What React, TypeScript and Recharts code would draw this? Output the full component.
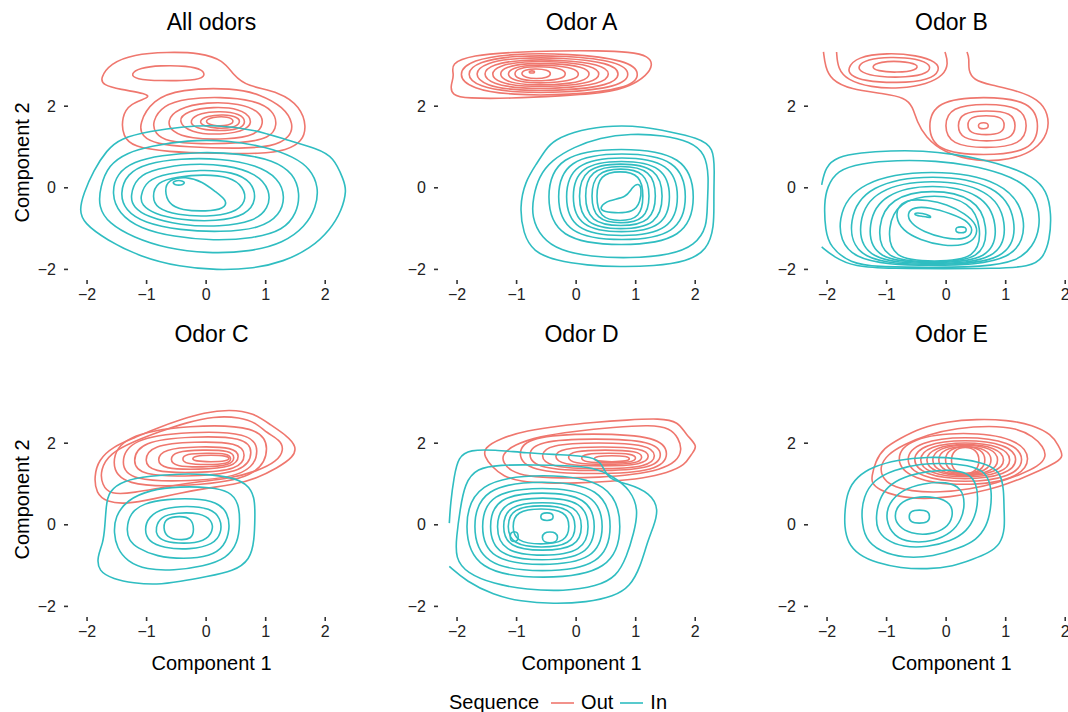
import { LineChart, Line, XAxis, YAxis } from 'recharts'

const OUT_COLOR = '#EF776E'
const IN_COLOR = '#2FBDC1'
const X_TICKS = [-2, -1, 0, 1, 2]
const Y_TICKS = [-2, 0, 2]
const X_DOMAIN: [number, number] = [-2.32, 2.5]
const Y_DOMAIN: [number, number] = [-2.26, 3.5]
const TITLES = ['All odors', 'Odor A', 'Odor B', 'Odor C', 'Odor D', 'Odor E']

// density contours, each one a flat list x0, y0, x1, y1, ...
const allOut = [
  [-1.78, 2.68, -1.61, 3.05, -1.22, 3.27, -0.66, 3.33, -0.1, 3.31, 0.29, 3.13, 0.46, 2.76, 0.68, 2.49, 1.24, 2.35, 1.58, 1.99, 1.69, 1.5, 1.61, 1.13, 1.36, 0.92, 0.91, 0.83, 0.18, 0.84, -0.66, 0.88, -1.22, 1.0, -1.4, 1.25, -1.42, 1.74, -1.28, 2.07, -0.94, 2.21, -1.0, 2.31, -1.45, 2.41, -1.73, 2.52],
  [-1.27, 2.79, -1.12, 2.94, -0.77, 3.0, -0.32, 2.99, -0.05, 2.9, -0.01, 2.72, -0.21, 2.63, -0.77, 2.62, -1.19, 2.66],
  [-1.13, 1.57, -0.9, 2.16, -0.44, 2.42, 0.46, 2.45, 0.91, 2.29, 1.3, 1.98, 1.47, 1.57, 1.41, 1.24, 1.13, 1.0, 0.46, 0.96, -0.33, 1.0, -0.83, 1.07, -1.08, 1.25],
  [-0.91, 1.62, -0.72, 2.03, -0.33, 2.19, 0.24, 2.23, 0.8, 2.15, 1.13, 1.9, 1.2, 1.54, 1.08, 1.21, 0.57, 1.09, -0.1, 1.07, -0.66, 1.13, -0.86, 1.33],
  [-0.66, 1.64, -0.49, 1.94, 0.01, 2.11, 0.57, 2.07, 0.91, 1.86, 0.97, 1.58, 0.85, 1.29, 0.35, 1.18, -0.27, 1.2, -0.58, 1.37],
  [-0.49, 1.64, -0.32, 1.89, 0.12, 1.99, 0.57, 1.94, 0.78, 1.7, 0.71, 1.41, 0.24, 1.29, -0.27, 1.35],
  [-0.3, 1.64, -0.1, 1.84, 0.24, 1.88, 0.57, 1.82, 0.68, 1.62, 0.57, 1.43, 0.18, 1.39, -0.18, 1.45],
  [-0.13, 1.63, 0.01, 1.76, 0.29, 1.8, 0.54, 1.74, 0.58, 1.59, 0.46, 1.47, 0.18, 1.45, -0.04, 1.51],
  [-0.04, 1.63, 0.1, 1.74, 0.38, 1.75, 0.48, 1.64, 0.4, 1.52, 0.1, 1.51],
]
const allIn = [
  [-1.67, 0.92, -1.45, 1.21, -0.94, 1.39, -0.38, 1.5, 0.18, 1.54, 0.8, 1.43, 1.36, 1.17, 1.86, 0.96, 2.14, 0.76, 2.31, 0.19, 2.36, -0.06, 2.28, -0.55, 2.08, -1.04, 1.75, -1.49, 1.3, -1.81, 0.8, -1.98, 0.18, -2.02, -0.44, -1.94, -1.11, -1.69, -1.67, -1.28, -2.06, -0.86, -2.13, -0.55, -2.06, -0.14, -1.89, 0.43],
  [-1.78, 0.02, -1.64, 0.56, -1.33, 0.86, -0.94, 1.02, -0.32, 1.17, 0.35, 1.17, 1.02, 1.0, 1.47, 0.76, 1.75, 0.47, 1.89, 0.02, 1.85, -0.47, 1.66, -0.96, 1.3, -1.35, 0.74, -1.57, 0.01, -1.61, -0.66, -1.49, -1.22, -1.22, -1.64, -0.87, -1.81, -0.47],
  [-1.59, -0.14, -1.5, 0.35, -1.22, 0.64, -0.77, 0.8, -0.1, 0.88, 0.57, 0.84, 1.13, 0.68, 1.47, 0.35, 1.58, -0.14, 1.52, -0.63, 1.3, -1.04, 0.8, -1.24, 0.12, -1.3, -0.55, -1.2, -1.11, -1.0, -1.47, -0.63],
  [-1.45, -0.14, -1.33, 0.35, -1.0, 0.6, -0.44, 0.72, 0.24, 0.72, 0.85, 0.56, 1.22, 0.23, 1.33, -0.22, 1.24, -0.67, 0.91, -1.0, 0.24, -1.09, -0.44, -1.04, -1.05, -0.86, -1.36, -0.55],
  [-1.28, -0.22, -1.17, 0.27, -0.83, 0.47, -0.27, 0.6, 0.35, 0.56, 0.85, 0.35, 1.08, -0.06, 1.05, -0.51, 0.8, -0.83, 0.24, -0.96, -0.44, -0.92, -1.0, -0.71, -1.22, -0.47],
  [-1.11, -0.22, -1.0, 0.19, -0.66, 0.35, -0.1, 0.45, 0.46, 0.39, 0.77, 0.15, 0.85, -0.3, 0.68, -0.67, 0.18, -0.83, -0.44, -0.79, -0.89, -0.63, -1.08, -0.42],
  [-0.91, -0.22, -0.83, 0.15, -0.49, 0.27, -0.04, 0.33, 0.4, 0.27, 0.63, 0.02, 0.68, -0.34, 0.46, -0.63, 0.01, -0.71, -0.49, -0.67, -0.83, -0.51],
  [-0.7, -0.06, -0.64, 0.2, -0.34, 0.28, -0.06, 0.15, 0.16, -0.1, 0.36, -0.32, 0.3, -0.52, 0.01, -0.58, -0.42, -0.55, -0.63, -0.4],
  [-0.6, 0.12, -0.46, 0.21, -0.32, 0.12, -0.46, 0.04],
]

const aOut = [
  [-2.12, 3.05, -1.73, 3.25, -1.11, 3.32, -0.27, 3.36, 0.35, 3.36, 0.91, 3.33, 1.22, 3.23, 1.29, 3.01, 1.19, 2.76, 0.91, 2.49, 0.52, 2.33, -0.27, 2.25, -1.11, 2.19, -1.84, 2.19, -2.09, 2.27, -2.11, 2.52, -2.04, 2.76],
  [-2.01, 2.78, -1.76, 3.14, -1.07, 3.29, -0.14, 3.29, 0.86, 3.14, 1.11, 2.78, 0.86, 2.42, -0.14, 2.27, -1.07, 2.27, -1.76, 2.42],
  [-1.87, 2.78, -1.65, 3.1, -1.03, 3.24, -0.18, 3.24, 0.72, 3.1, 0.94, 2.78, 0.72, 2.47, -0.18, 2.33, -1.03, 2.33, -1.65, 2.47],
  [-1.73, 2.79, -1.53, 3.07, -0.98, 3.19, -0.23, 3.19, 0.57, 3.07, 0.77, 2.79, 0.57, 2.5, -0.23, 2.38, -0.98, 2.38, -1.53, 2.5],
  [-1.59, 2.79, -1.41, 3.03, -0.93, 3.14, -0.28, 3.14, 0.42, 3.03, 0.6, 2.79, 0.42, 2.54, -0.28, 2.43, -0.93, 2.43, -1.41, 2.54],
  [-1.45, 2.79, -1.3, 3.0, -0.89, 3.1, -0.32, 3.1, 0.28, 3.0, 0.43, 2.79, 0.28, 2.57, -0.32, 2.48, -0.89, 2.48, -1.3, 2.57],
  [-1.31, 2.79, -1.18, 2.97, -0.84, 3.05, -0.37, 3.05, 0.13, 2.97, 0.26, 2.79, 0.13, 2.6, -0.37, 2.52, -0.84, 2.52, -1.18, 2.6],
  [-1.17, 2.79, -1.07, 2.94, -0.8, 3.01, -0.43, 3.01, -0.03, 2.94, 0.07, 2.79, -0.03, 2.64, -0.43, 2.57, -0.8, 2.57, -1.07, 2.64],
  [-1.05, 2.8, -0.98, 2.92, -0.78, 2.97, -0.52, 2.97, -0.23, 2.92, -0.16, 2.8, -0.23, 2.67, -0.52, 2.62, -0.78, 2.62, -0.98, 2.67],
  [-0.94, 2.8, -0.85, 2.9, -0.67, 2.92, -0.48, 2.89, -0.41, 2.8, -0.48, 2.7, -0.67, 2.67, -0.85, 2.7],
  [-0.81, 2.84, -0.74, 2.88, -0.68, 2.84, -0.74, 2.8],
]
const aIn = [
  [-0.52, 0.92, -0.38, 1.17, 0.07, 1.43, 0.63, 1.53, 1.13, 1.5, 1.58, 1.37, 2.03, 1.23, 2.32, 1.0, 2.32, 0.35, 2.31, -0.3, 2.32, -0.96, 2.2, -1.53, 1.86, -1.81, 1.3, -1.92, 0.74, -1.94, 0.18, -1.9, -0.33, -1.79, -0.72, -1.57, -0.89, -1.12, -0.95, -0.47, -0.86, 0.15, -0.66, 0.6],
  [-0.75, -0.71, -0.72, -0.22, -0.63, 0.27, -0.41, 0.68, -0.04, 1.0, 0.4, 1.23, 0.91, 1.33, 1.47, 1.29, 1.92, 1.13, 2.17, 0.84, 2.23, 0.27, 2.2, -0.38, 2.2, -0.96, 2.0, -1.41, 1.58, -1.65, 0.91, -1.73, 0.24, -1.69, -0.27, -1.54, -0.58, -1.24],
  [-0.52, -0.23, -0.33, 0.82, 0.76, 1.0, 1.84, 0.82, 2.03, -0.23, 1.84, -1.27, 0.76, -1.45, -0.33, -1.27],
  [-0.35, -0.22, -0.18, 0.72, 0.77, 0.88, 1.72, 0.72, 1.89, -0.22, 1.72, -1.16, 0.77, -1.32, -0.18, -1.16],
  [-0.21, -0.22, -0.06, 0.63, 0.77, 0.78, 1.6, 0.63, 1.75, -0.22, 1.6, -1.07, 0.77, -1.22, -0.06, -1.07],
  [-0.09, -0.22, 0.04, 0.55, 0.76, 0.69, 1.48, 0.55, 1.61, -0.22, 1.48, -0.98, 0.76, -1.12, 0.04, -0.98],
  [0.02, -0.21, 0.13, 0.5, 0.75, 0.62, 1.37, 0.5, 1.48, -0.21, 1.37, -0.92, 0.75, -1.04, 0.13, -0.92],
  [0.13, -0.2, 0.22, 0.45, 0.75, 0.56, 1.27, 0.45, 1.36, -0.2, 1.27, -0.85, 0.75, -0.96, 0.22, -0.85],
  [0.24, -0.2, 0.32, 0.39, 0.75, 0.49, 1.17, 0.39, 1.25, -0.2, 1.17, -0.79, 0.75, -0.89, 0.32, -0.79],
  [0.33, -0.21, 0.39, 0.33, 0.74, 0.42, 1.08, 0.33, 1.14, -0.21, 1.08, -0.74, 0.74, -0.83, 0.39, -0.74],
  [0.4, -0.47, 0.54, -0.3, 0.85, -0.24, 0.94, 0.02, 1.05, 0.12, 1.1, -0.02, 1.08, -0.34, 0.97, -0.6, 0.63, -0.62, 0.43, -0.57],
]

const bOut = [
  [-1.66, 2.92, -1.5, 3.21, -0.99, 3.31, -0.49, 3.25, -0.16, 3.09, -0.1, 2.88, -0.27, 2.64, -0.83, 2.56, -1.39, 2.62, -1.61, 2.76],
  [-1.5, 2.97, -1.33, 3.15, -0.94, 3.21, -0.49, 3.17, -0.24, 3.01, -0.3, 2.8, -0.66, 2.7, -1.16, 2.72, -1.42, 2.82],
  [-1.27, 2.97, -1.11, 3.09, -0.77, 3.11, -0.46, 3.03, -0.49, 2.88, -0.83, 2.82, -1.16, 2.86],
  [-0.32, 1.51, -0.18, 2.13, 0.63, 2.25, 1.44, 2.13, 1.58, 1.51, 1.44, 0.89, 0.63, 0.78, -0.18, 0.89],
  [-0.04, 1.52, 0.07, 1.99, 0.67, 2.07, 1.27, 1.99, 1.38, 1.52, 1.27, 1.05, 0.67, 0.96, 0.07, 1.05],
  [0.18, 1.52, 0.26, 1.85, 0.68, 1.9, 1.11, 1.85, 1.18, 1.52, 1.11, 1.19, 0.68, 1.13, 0.26, 1.19],
  [0.35, 1.54, 0.4, 1.74, 0.67, 1.78, 0.94, 1.74, 0.99, 1.54, 0.94, 1.33, 0.67, 1.29, 0.4, 1.33],
  [0.54, 1.52, 0.55, 1.58, 0.63, 1.6, 0.7, 1.58, 0.71, 1.52, 0.7, 1.46, 0.63, 1.44, 0.55, 1.46],
]
const bOutOpen = [
  [-2.06, 3.33, -2.03, 2.97, -1.93, 2.64, -1.61, 2.41, -1.05, 2.31, -0.69, 2.21, -0.56, 1.99, -0.49, 1.62, -0.35, 1.25, -0.04, 0.86, 0.51, 0.64, 1.07, 0.68, 1.49, 0.91, 1.72, 1.33, 1.72, 1.82, 1.55, 2.17, 1.18, 2.39, 0.74, 2.52, 0.46, 2.64, 0.37, 2.88, 0.39, 3.17, 0.35, 3.33],
  [-1.84, 3.33, -1.82, 2.92, -1.66, 2.64, -1.27, 2.46, -0.77, 2.43, -0.32, 2.54, -0.04, 2.76, 0.04, 3.05, -0.02, 3.33],
]
const bIn = [
  [-2.05, -0.38, -2.0, 0.02, -1.83, 0.43, -1.44, 0.6, -0.83, 0.68, -0.16, 0.66, 0.4, 0.56, 0.96, 0.35, 1.35, 0.07, 1.55, -0.38, 1.58, -0.96, 1.46, -1.45, 1.18, -1.81, 0.63, -1.94, -0.32, -1.95, -1.16, -1.94, -1.61, -1.85, -1.95, -1.45, -2.03, -1.04],
  [-1.86, -0.72, -1.47, 0.18, -0.24, 0.47, 0.99, 0.18, 1.38, -0.72, 1.22, -1.85, -0.24, -1.92, -1.7, -1.85],
  [-1.66, -0.78, -1.32, 0.08, -0.23, 0.35, 0.87, 0.08, 1.21, -0.78, 1.07, -1.83, -0.23, -1.9, -1.52, -1.83],
  [-1.5, -0.82, -1.2, -0.02, -0.23, 0.23, 0.74, -0.02, 1.04, -0.82, 0.91, -1.81, -0.23, -1.87, -1.37, -1.81],
  [-1.33, -0.87, -1.06, -0.13, -0.23, 0.11, 0.61, -0.13, 0.88, -0.87, 0.77, -1.79, -0.23, -1.85, -1.22, -1.79],
  [-1.16, -0.92, -0.94, -0.24, -0.23, -0.02, 0.49, -0.24, 0.71, -0.92, 0.62, -1.78, -0.23, -1.83, -1.07, -1.78],
  [-0.99, -0.97, -0.8, -0.34, -0.2, -0.14, 0.41, -0.34, 0.6, -0.97, 0.52, -1.76, -0.2, -1.81, -0.91, -1.76],
  [-0.85, -0.71, -0.8, -0.42, -0.6, -0.28, -0.32, -0.3, 0.01, -0.4, 0.32, -0.63, 0.53, -0.92, 0.51, -1.22, 0.32, -1.41, -0.04, -1.43, -0.44, -1.28, -0.74, -1.04],
  [-0.66, -0.63, -0.55, -0.47, -0.27, -0.48, 0.07, -0.63, 0.4, -0.83, 0.46, -1.12, 0.29, -1.28, -0.04, -1.24, -0.38, -1.08, -0.6, -0.87],
  [-0.53, -0.61, -0.4, -0.62, -0.26, -0.69, -0.25, -0.74, -0.4, -0.7, -0.53, -0.67],
  [0.16, -1.03, 0.17, -0.97, 0.25, -0.95, 0.33, -0.97, 0.34, -1.03, 0.33, -1.09, 0.25, -1.11, 0.17, -1.09],
]
const bInOpen = [
  [-2.09, 0.07, -2.03, 0.51, -1.83, 0.76, -1.44, 0.86, -0.94, 0.91, -0.38, 0.91, 0.12, 0.83, 0.63, 0.69, 1.07, 0.51, 1.46, 0.27, 1.69, -0.06, 1.77, -0.63, 1.74, -1.28, 1.63, -1.73, 1.41, -1.94, 0.79, -1.98, -0.04, -1.98, -0.88, -1.98, -1.55, -1.94, -1.89, -1.69, -2.09, -1.45],
]

const cOut = [
  [-1.88, 1.18, -1.81, 1.59, -1.56, 1.92, -1.22, 2.12, -0.83, 2.37, -0.44, 2.57, -0.04, 2.75, 0.4, 2.83, 0.8, 2.74, 1.08, 2.45, 1.36, 2.18, 1.52, 1.92, 1.47, 1.66, 1.19, 1.39, 0.85, 1.14, 0.46, 0.98, 0.01, 0.9, -0.44, 0.78, -0.89, 0.63, -1.33, 0.51, -1.67, 0.55, -1.85, 0.78],
  [-1.78, 1.35, -1.61, 1.76, -1.22, 2.04, -0.77, 2.29, -0.32, 2.51, 0.12, 2.66, 0.57, 2.64, 0.85, 2.49, 1.02, 2.25, 1.24, 2.08, 1.31, 1.84, 1.19, 1.55, 0.85, 1.31, 0.4, 1.14, -0.1, 1.06, -0.66, 0.94, -1.22, 0.78, -1.61, 0.74, -1.75, 0.98],
  [-1.61, 1.5, -1.41, 2.2, -0.27, 2.45, 0.88, 2.42, 1.08, 1.9, 0.88, 1.15, -0.27, 0.94, -1.41, 0.95],
  [-1.45, 1.5, -1.27, 2.12, -0.27, 2.29, 0.73, 2.26, 0.91, 1.85, 0.73, 1.2, -0.27, 1.06, -1.27, 1.08],
  [-1.25, 1.55, -1.1, 2.05, -0.23, 2.17, 0.65, 2.15, 0.8, 1.8, 0.65, 1.29, -0.23, 1.18, -1.1, 1.2],
  [-1.05, 1.57, -0.92, 1.96, -0.19, 2.04, 0.55, 2.02, 0.68, 1.72, 0.55, 1.34, -0.19, 1.27, -0.92, 1.29],
  [-0.83, 1.58, -0.73, 1.86, -0.13, 1.92, 0.47, 1.9, 0.57, 1.68, 0.47, 1.41, -0.13, 1.35, -0.73, 1.37],
  [-0.61, 1.6, -0.53, 1.8, -0.06, 1.84, 0.41, 1.82, 0.49, 1.65, 0.41, 1.45, -0.06, 1.41, -0.53, 1.43],
  [-0.41, 1.61, -0.35, 1.74, 0.01, 1.76, 0.37, 1.75, 0.43, 1.62, 0.37, 1.49, 0.01, 1.47, -0.35, 1.49],
  [-0.24, 1.62, -0.19, 1.69, 0.08, 1.71, 0.35, 1.69, 0.4, 1.63, 0.35, 1.56, 0.08, 1.54, -0.19, 1.56],
]
const cIn = [
  [-1.64, 0.82, -1.39, 1.09, -0.94, 1.2, -0.44, 1.25, 0.01, 1.24, 0.4, 1.17, 0.68, 1.02, 0.82, 0.69, 0.82, 0.2, 0.81, -0.37, 0.74, -0.86, 0.46, -1.14, 0.01, -1.27, -0.44, -1.39, -0.83, -1.47, -1.22, -1.43, -1.56, -1.33, -1.81, -1.14, -1.83, -0.78, -1.73, -0.45, -1.7, -0.04, -1.68, 0.45],
  [-1.55, -0.2, -1.53, 0.2, -1.33, 0.61, -0.94, 0.86, -0.44, 0.94, 0.07, 0.92, 0.4, 0.82, 0.55, 0.53, 0.57, 0.04, 0.53, -0.45, 0.35, -0.82, -0.04, -1.02, -0.55, -1.12, -1.0, -1.1, -1.33, -0.9, -1.5, -0.56],
  [-1.34, -0.12, -1.28, 0.29, -1.05, 0.53, -0.66, 0.63, -0.21, 0.65, 0.18, 0.57, 0.37, 0.29, 0.4, -0.12, 0.31, -0.53, 0.07, -0.78, -0.38, -0.84, -0.83, -0.78, -1.16, -0.57, -1.3, -0.37],
  [-1.04, -0.12, -0.97, 0.2, -0.72, 0.41, -0.32, 0.47, 0.07, 0.41, 0.25, 0.16, 0.26, -0.2, 0.12, -0.49, -0.27, -0.61, -0.72, -0.57, -0.97, -0.41],
  [-0.85, -0.08, -0.77, 0.2, -0.49, 0.3, -0.1, 0.29, 0.1, 0.12, 0.12, -0.16, -0.02, -0.41, -0.38, -0.47, -0.72, -0.41, -0.83, -0.27],
  [-0.72, -0.08, -0.69, 0.16, -0.44, 0.22, -0.24, 0.16, -0.2, -0.12, -0.24, -0.35, -0.46, -0.38, -0.67, -0.3],
]

const dOut = [
  [-1.55, 1.88, -1.28, 2.12, -0.83, 2.31, -0.27, 2.43, 0.29, 2.51, 0.85, 2.57, 1.41, 2.61, 1.72, 2.53, 1.84, 2.21, 2.06, 1.92, 1.92, 1.72, 1.84, 1.47, 1.53, 1.27, 1.13, 1.14, 0.57, 1.06, 0.01, 1.02, -0.49, 1.02, -0.94, 1.06, -1.22, 1.18, -1.42, 1.43, -1.54, 1.67],
  [-1.25, 1.72, -1.05, 1.96, -0.61, 2.17, -0.04, 2.29, 0.63, 2.39, 1.25, 2.45, 1.58, 2.37, 1.72, 2.12, 1.78, 1.84, 1.69, 1.55, 1.41, 1.35, 0.97, 1.23, 0.4, 1.16, -0.27, 1.14, -0.83, 1.18, -1.11, 1.33, -1.22, 1.51],
  [-1.0, 1.74, -0.81, 2.17, 0.29, 2.25, 1.39, 2.17, 1.58, 1.74, 1.39, 1.31, 0.29, 1.23, -0.81, 1.31],
  [-0.83, 1.72, -0.66, 2.06, 0.32, 2.12, 1.3, 2.06, 1.47, 1.72, 1.3, 1.37, 0.32, 1.31, -0.66, 1.37],
  [-0.61, 1.69, -0.47, 1.97, 0.38, 2.02, 1.22, 1.97, 1.36, 1.69, 1.22, 1.41, 0.38, 1.36, -0.47, 1.41],
  [-0.38, 1.68, -0.26, 1.88, 0.44, 1.92, 1.13, 1.88, 1.25, 1.68, 1.13, 1.47, 0.44, 1.43, -0.26, 1.47],
  [-0.16, 1.66, -0.06, 1.81, 0.49, 1.84, 1.04, 1.81, 1.13, 1.66, 1.04, 1.5, 0.49, 1.47, -0.06, 1.5],
  [0.07, 1.64, 0.14, 1.74, 0.55, 1.76, 0.95, 1.74, 1.02, 1.64, 0.95, 1.53, 0.55, 1.51, 0.14, 1.53],
  [0.29, 1.62, 0.34, 1.68, 0.6, 1.7, 0.86, 1.68, 0.91, 1.62, 0.86, 1.56, 0.6, 1.54, 0.34, 1.56],
]
const dIn = [
  [-1.95, 0.37, -1.87, 1.02, -1.67, 1.39, -1.28, 1.47, -0.72, 1.47, -0.16, 1.45, 0.29, 1.41, 0.63, 1.18, 0.91, 0.86, 1.05, 0.37, 0.97, -0.2, 0.85, -0.78, 0.68, -1.27, 0.35, -1.51, -0.21, -1.63, -0.83, -1.59, -1.39, -1.45, -1.84, -1.18, -2.03, -0.82, -2.01, -0.29],
  [-1.9, -0.04, -1.7, 1.07, -0.55, 1.27, 0.6, 1.07, 0.8, -0.04, 0.6, -1.15, -0.55, -1.35, -1.7, -1.15],
  [-1.76, -0.04, -1.58, 0.93, -0.57, 1.1, 0.45, 0.93, 0.63, -0.04, 0.45, -1.01, -0.57, -1.18, -1.58, -1.01],
  [-1.62, -0.04, -1.47, 0.79, -0.57, 0.94, 0.33, 0.79, 0.49, -0.04, 0.33, -0.87, -0.57, -1.02, -1.47, -0.87],
  [-1.48, -0.04, -1.35, 0.69, -0.57, 0.82, 0.21, 0.69, 0.35, -0.04, 0.21, -0.77, -0.57, -0.9, -1.35, -0.77],
  [-1.36, -0.05, -1.24, 0.58, -0.56, 0.69, 0.12, 0.58, 0.24, -0.05, 0.12, -0.67, -0.56, -0.78, -1.24, -0.67],
  [-1.25, -0.04, -1.15, 0.48, -0.57, 0.57, 0.02, 0.48, 0.12, -0.04, 0.02, -0.56, -0.57, -0.65, -1.15, -0.56],
  [-1.17, -0.04, -1.08, 0.41, -0.58, 0.49, -0.08, 0.41, 0.01, -0.04, -0.08, -0.49, -0.58, -0.57, -1.08, -0.49],
  [-1.08, -0.04, -1.01, 0.34, -0.59, 0.41, -0.17, 0.34, -0.1, -0.04, -0.17, -0.42, -0.59, -0.49, -1.01, -0.42],
  [-0.6, 0.2, -0.58, 0.28, -0.49, 0.3, -0.4, 0.28, -0.38, 0.2, -0.4, 0.12, -0.49, 0.1, -0.58, 0.12],
  [-1.11, -0.29, -1.1, -0.19, -1.04, -0.16, -0.98, -0.19, -0.97, -0.29, -0.98, -0.39, -1.04, -0.42, -1.1, -0.39],
  [-0.58, -0.31, -0.54, -0.19, -0.44, -0.17, -0.34, -0.19, -0.3, -0.31, -0.34, -0.43, -0.44, -0.45, -0.54, -0.43],
]
const dInOpen = [
  [-2.13, 0.04, -2.11, 0.53, -2.05, 1.18, -1.98, 1.67, -1.78, 1.84, -1.39, 1.84, -0.83, 1.76, -0.27, 1.72, 0.29, 1.67, 0.43, 1.51, 0.54, 1.1, 0.85, 1.02, 1.25, 0.78, 1.39, 0.37, 1.3, -0.04, 1.19, -0.45, 1.08, -1.02, 0.91, -1.51, 0.63, -1.76, 0.18, -1.9, -0.38, -1.94, -0.94, -1.88, -1.39, -1.72, -1.84, -1.39, -2.13, -1.02],
]

const eOut = [
  [-1.25, 1.18, -1.19, 1.55, -1.05, 1.88, -0.77, 2.12, -0.44, 2.37, 0.01, 2.53, 0.51, 2.59, 1.02, 2.57, 1.46, 2.45, 1.77, 2.21, 1.88, 1.96, 1.98, 1.67, 1.85, 1.53, 1.58, 1.33, 1.24, 1.12, 0.91, 0.94, 0.51, 0.79, 0.07, 0.68, -0.38, 0.63, -0.83, 0.69, -1.13, 0.86, -1.25, 1.02],
  [-1.11, 1.43, -0.99, 1.72, -0.72, 1.96, -0.32, 2.21, 0.18, 2.37, 0.74, 2.43, 1.18, 2.37, 1.46, 2.17, 1.63, 1.92, 1.69, 1.67, 1.55, 1.43, 1.24, 1.23, 0.85, 1.02, 0.4, 0.87, -0.1, 0.79, -0.6, 0.82, -0.94, 0.96, -1.08, 1.18],
  [-0.88, 1.62, -0.6, 2.13, 0.29, 2.29, 1.18, 2.13, 1.46, 1.62, 1.18, 1.1, 0.29, 0.94, -0.6, 1.1],
  [-0.72, 1.6, -0.47, 2.04, 0.32, 2.18, 1.1, 2.04, 1.35, 1.6, 1.1, 1.16, 0.32, 1.02, -0.47, 1.16],
  [-0.6, 1.6, -0.38, 1.98, 0.32, 2.1, 1.02, 1.98, 1.24, 1.6, 1.02, 1.21, 0.32, 1.09, -0.38, 1.21],
  [-0.49, 1.59, -0.3, 1.93, 0.32, 2.04, 0.94, 1.93, 1.13, 1.59, 0.94, 1.25, 0.32, 1.14, -0.3, 1.25],
  [-0.38, 1.59, -0.21, 1.9, 0.32, 2.0, 0.85, 1.9, 1.02, 1.59, 0.85, 1.28, 0.32, 1.18, -0.21, 1.28],
  [-0.27, 1.59, -0.13, 1.89, 0.32, 1.98, 0.77, 1.89, 0.91, 1.59, 0.77, 1.29, 0.32, 1.2, -0.13, 1.29],
  [-0.16, 1.59, -0.05, 1.86, 0.32, 1.95, 0.68, 1.86, 0.79, 1.59, 0.68, 1.31, 0.32, 1.22, -0.05, 1.31],
  [-0.04, 1.59, 0.05, 1.86, 0.32, 1.94, 0.59, 1.86, 0.68, 1.59, 0.59, 1.31, 0.32, 1.23, 0.05, 1.31],
  [0.07, 1.58, 0.13, 1.84, 0.32, 1.92, 0.51, 1.84, 0.57, 1.58, 0.51, 1.31, 0.32, 1.23, 0.13, 1.31],
]
const eIn = [
  [-1.7, 0.37, -1.66, 0.82, -1.5, 1.18, -1.22, 1.43, -0.83, 1.59, -0.32, 1.67, 0.23, 1.63, 0.65, 1.51, 0.91, 1.31, 0.97, 0.86, 0.97, 0.37, 0.99, -0.08, 0.91, -0.49, 0.71, -0.69, 0.46, -0.84, 0.12, -1.02, -0.32, -1.09, -0.77, -1.06, -1.16, -0.94, -1.47, -0.74, -1.65, -0.45, -1.71, -0.04],
  [-1.43, 0.2, -1.39, 0.69, -1.22, 1.1, -0.88, 1.35, -0.44, 1.5, 0.07, 1.51, 0.46, 1.43, 0.68, 1.27, 0.77, 0.86, 0.75, 0.37, 0.68, -0.04, 0.51, -0.37, 0.23, -0.57, -0.21, -0.78, -0.72, -0.82, -1.11, -0.65, -1.36, -0.37],
  [-1.18, 0.2, -1.13, 0.61, -0.99, 0.94, -0.72, 1.18, -0.32, 1.31, 0.07, 1.36, 0.37, 1.27, 0.51, 1.02, 0.54, 0.61, 0.49, 0.2, 0.35, -0.16, 0.07, -0.41, -0.32, -0.55, -0.72, -0.55, -1.02, -0.37, -1.16, -0.12],
  [-1.02, 0.12, -0.97, 0.53, -0.74, 0.86, -0.38, 1.02, 0.01, 1.06, 0.26, 0.9, 0.32, 0.53, 0.26, 0.12, 0.09, -0.2, -0.21, -0.41, -0.6, -0.44, -0.88, -0.29],
  [-0.88, 0.2, -0.8, 0.53, -0.55, 0.69, -0.16, 0.69, 0.09, 0.53, 0.12, 0.2, 0.01, -0.08, -0.27, -0.25, -0.6, -0.22, -0.8, -0.04],
  [-0.63, 0.2, -0.6, 0.34, -0.45, 0.37, -0.3, 0.34, -0.27, 0.2, -0.3, 0.06, -0.45, 0.03, -0.6, 0.06],
]

type Panel = { title: string; out: number[][]; outOpen: number[][]; inn: number[][]; inOpen: number[][] }

const PANELS: Panel[] = [
  { title: TITLES[0], out: allOut, outOpen: [], inn: allIn, inOpen: [] },
  { title: TITLES[1], out: aOut, outOpen: [], inn: aIn, inOpen: [] },
  { title: TITLES[2], out: bOut, outOpen: bOutOpen, inn: bIn, inOpen: bInOpen },
  { title: TITLES[3], out: cOut, outOpen: [], inn: cIn, inOpen: [] },
  { title: TITLES[4], out: dOut, outOpen: [], inn: dIn, inOpen: dInOpen },
  { title: TITLES[5], out: eOut, outOpen: [], inn: eIn, inOpen: [] },
]

function toPoints(flat: number[]) {
  const rows: { x: number; y: number }[] = []
  for (let i = 0; i < flat.length; i += 2) rows.push({ x: flat[i], y: flat[i + 1] })
  return rows
}

const fmt = (v: number) => (v < 0 ? '\u2212' + Math.abs(v) : String(v))
const FONT = '"Liberation Sans", Arial, Helvetica, sans-serif'
const TICK_STYLE = { fontSize: 16, fill: '#222', fontFamily: FONT }
const TICK_LINE = { stroke: '#333', strokeWidth: 1.6 }

function ContourPanel({ panel, row, col }: { panel: Panel; row: number; col: number }) {
  const plotLeft = 68 + col * 370
  const plotTop = row === 0 ? 45 : 382
  const axisH = row === 1 ? 60 : 30
  const paths = [
    ...panel.out.map(c => ({ c, color: OUT_COLOR, closed: true })),
    ...panel.outOpen.map(c => ({ c, color: OUT_COLOR, closed: false })),
    ...panel.inn.map(c => ({ c, color: IN_COLOR, closed: true })),
    ...panel.inOpen.map(c => ({ c, color: IN_COLOR, closed: false })),
  ]
  return (
    <>
      <div style={{ position: 'absolute', left: plotLeft, width: 287, top: row === 0 ? 9 : 321, textAlign: 'center', fontSize: 23, lineHeight: '26px', color: '#000' }}>
        {panel.title}
      </div>
      <div style={{ position: 'absolute', left: plotLeft - 60, top: plotTop - 5 }}>
        <LineChart width={352} height={240 + axisH} margin={{ top: 5, right: 5, bottom: 0, left: 10 }}>
          <XAxis type="number" dataKey="x" domain={X_DOMAIN} ticks={X_TICKS} allowDataOverflow
                 axisLine={false} tickSize={4} tickMargin={5} height={axisH} stroke="#333" fontSize={16}
                 tick={TICK_STYLE} tickLine={TICK_LINE} tickFormatter={fmt}
                 label={row === 1 ? { value: 'Component 1', position: 'insideBottom', offset: 7, fontSize: 20, fill: '#000' } : undefined} />
          <YAxis type="number" dataKey="y" domain={Y_DOMAIN} ticks={Y_TICKS} allowDataOverflow
                 axisLine={false} width={50} tickSize={4} tickMargin={8} stroke="#333" fontSize={16}
                 tick={TICK_STYLE} tickLine={TICK_LINE} tickFormatter={fmt}
                 label={col === 0 ? { value: 'Component 2', angle: -90, position: 'insideLeft', offset: 4, fontSize: 20, fill: '#000', style: { textAnchor: 'middle' } } : undefined} />
          {paths.map((p, i) => (
            <Line key={i} data={toPoints(p.c)} dataKey="y" type={p.closed ? 'basisClosed' : 'basis'}
                  stroke={p.color} strokeWidth={1.6} dot={false} activeDot={false} isAnimationActive={false} />
          ))}
        </LineChart>
      </div>
    </>
  )
}

function LegendKey({ color }: { color: string }) {
  return (
    <svg width={23} height={24} style={{ display: 'block' }}>
      <line x1={0} x2={23} y1={13} y2={13} stroke={color} strokeWidth={1.6} />
    </svg>
  )
}

export default function App() {
  return (
    <div style={{ position: 'absolute', left: 0, top: 0, width: 1068, height: 712, overflow: 'hidden', background: '#fff', fontFamily: FONT }}>
      {PANELS.map((p, i) => (
        <ContourPanel key={p.title} panel={p} row={Math.floor(i / 3)} col={i % 3} />
      ))}
      <div style={{ position: 'absolute', left: 449, top: 690, display: 'flex', alignItems: 'center', fontSize: 20, lineHeight: '24px', color: '#000', whiteSpace: 'nowrap' }}>
        <span style={{ marginRight: 12 }}>Sequence</span>
        <LegendKey color={OUT_COLOR} />
        <span style={{ margin: '0 7px' }}>Out</span>
        <LegendKey color={IN_COLOR} />
        <span style={{ marginLeft: 7 }}>In</span>
      </div>
    </div>
  )
}
